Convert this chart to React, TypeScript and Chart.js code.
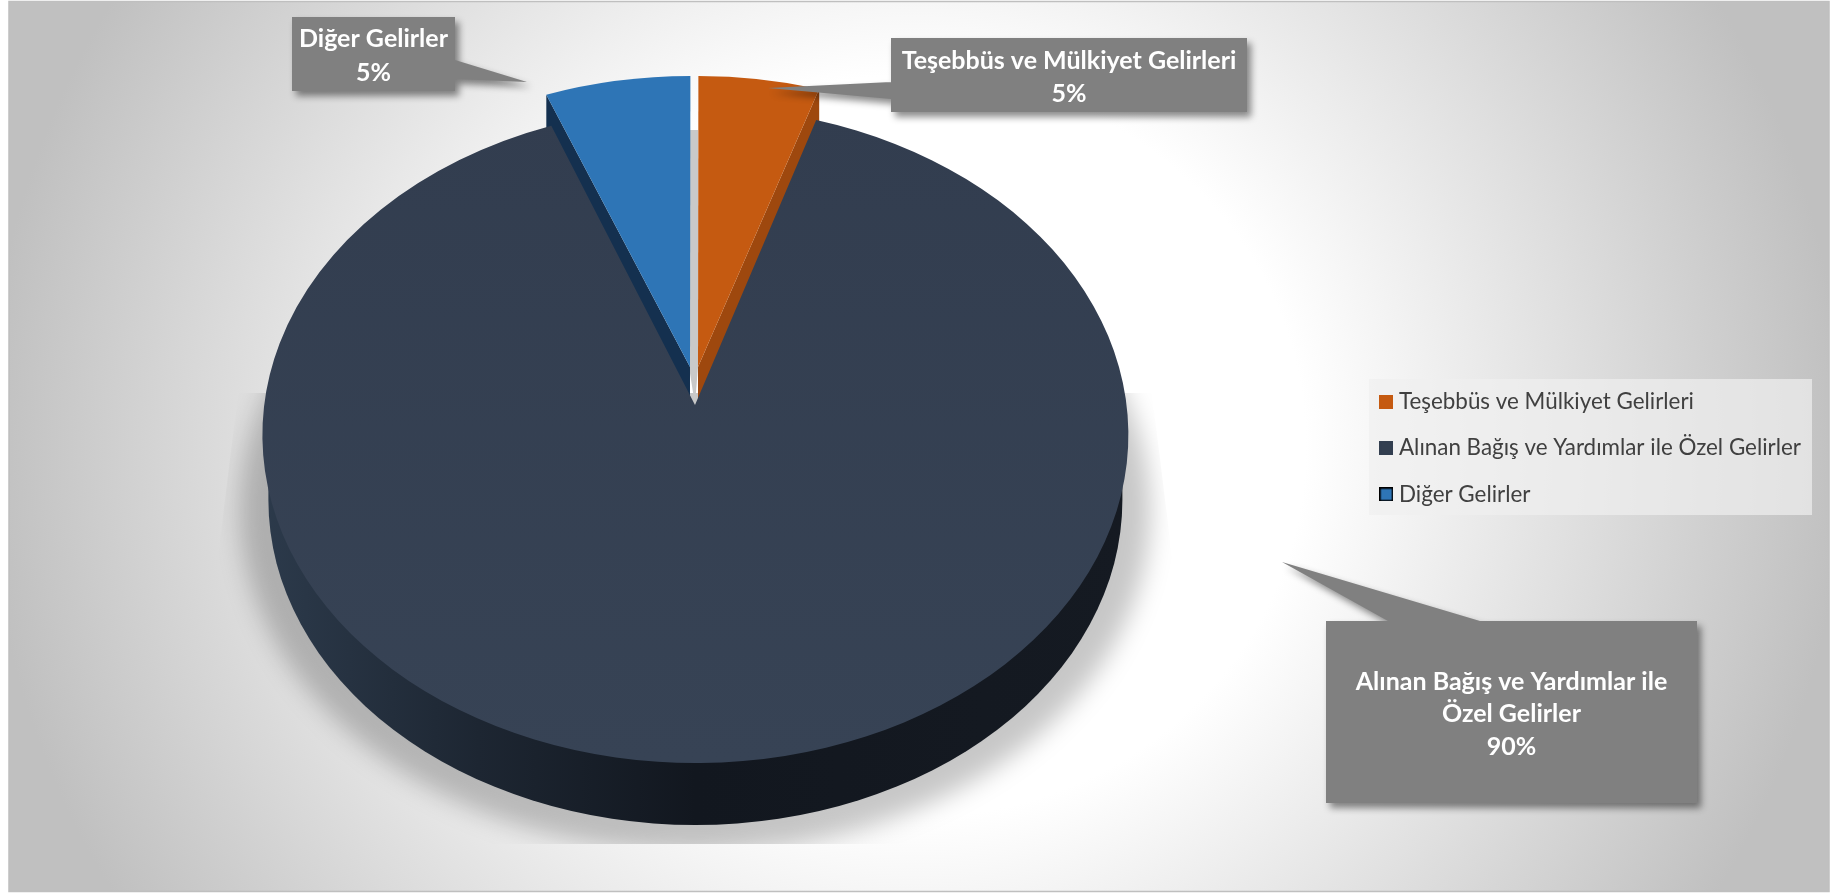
import React, { useEffect, useRef } from "react";
import { Chart, registerables } from "chart.js";

Chart.register(...registerables);

const labels = ["Teşebbüs ve Mülkiyet Gelirleri", "Alınan Bağış ve Yardımlar ile Özel Gelirler", "Diğer Gelirler"];
const values = [4.5, 90.1, 5.4];
const colors = ["#c55a11", "#333f50", "#2e75b6"];
const wallColors = ["#9e480e", "#1b2430", "#14304f"];
const legendBorders = ["#c55a11", "#333f50", "#000000"];
const calloutLines = [["Teşebbüs ve Mülkiyet Gelirleri"], ["Alınan Bağış ve Yardımlar ile", "Özel Gelirler"], ["Diğer Gelirler"]];

const W = 1834;
const H = 893;
const FONT = "Lato";
const SQUASH = 328 / 433;
const DEPTH = 62;
const MAIN_CY = 435;

// Where each slice's face sits on the page: the exploded wedges are lifted, and perspective moves each apex.
const faces = [
  { dx: 3, cy: 404, apexX: 698, apexY: 367 },
  { dx: 0, cy: MAIN_CY, apexX: 695, apexY: 405 },
  { dx: -5, cy: 404, apexX: 690, apexY: 367 },
];

const callouts = [
  { box: [891, 38, 356, 74], tail: [[891, 82], [768, 88], [891, 99]], textY: [61, 94] },
  { box: [1326, 621, 371, 182], tail: [[1388, 621], [1282, 562], [1480, 621]], textY: [682, 714, 747] },
  { box: [292, 17, 163, 74], tail: [[455, 60], [527, 82], [455, 79]], textY: [39, 73] },
];

function swatch(fill: string, border: string) {
  const c = document.createElement("canvas");
  c.width = 14;
  c.height = 14;
  const g = c.getContext("2d")!;
  g.fillStyle = border;
  g.fillRect(0, 0, 14, 14);
  g.fillStyle = fill;
  g.fillRect(1.5, 1.5, 11, 11);
  return c;
}

function facePath(ctx: CanvasRenderingContext2D, arc: any, i: number) {
  const p = arc.getProps(["x", "startAngle", "endAngle", "outerRadius"], true);
  const f = faces[i];
  ctx.beginPath();
  ctx.ellipse(p.x + f.dx, f.cy, p.outerRadius, p.outerRadius * SQUASH, 0, p.startAngle, p.endAngle);
  ctx.lineTo(f.apexX, f.apexY);
  ctx.closePath();
}

function arcEnd(arc: any, i: number, angle: number) {
  const p = arc.getProps(["x", "outerRadius"], true);
  const f = faces[i];
  return [p.x + f.dx + p.outerRadius * Math.cos(angle), f.cy + p.outerRadius * SQUASH * Math.sin(angle)];
}

const scene = {
  id: "scene",
  beforeDraw(chart: any) {
    const ctx: CanvasRenderingContext2D = chart.ctx;
    ctx.save();
    ctx.fillStyle = "#ffffff";
    ctx.fillRect(0, 0, W, H);
    ctx.save();
    const sy = 0.95;
    ctx.scale(1, sy);
    const g = ctx.createRadialGradient(915, 446 / sy, 0, 915, 446 / sy, 930);
    g.addColorStop(0, "#ffffff");
    g.addColorStop(0.42, "#ffffff");
    g.addColorStop(1, "#c0c0c0");
    ctx.fillStyle = g;
    ctx.fillRect(9, 2 / sy, 1820, 889 / sy);
    ctx.restore();
    ctx.strokeStyle = "#bfbfbf";
    ctx.lineWidth = 1.5;
    ctx.strokeRect(9, 1.5, 1820, 890);
    ctx.fillStyle = "rgba(240,240,240,0.7)";
    ctx.fillRect(1369, 379, 443, 136);
    ctx.restore();
  },
  beforeDatasetsDraw(chart: any) {
    const ctx: CanvasRenderingContext2D = chart.ctx;
    const arcs = chart.getDatasetMeta(0).data;
    const main = arcs[1].getProps(["x", "outerRadius"], true);
    const R = main.outerRadius;
    ctx.save();

    // soft ground shadow, cut off as in the source picture
    ctx.save();
    ctx.beginPath();
    ctx.moveTo(238, 393);
    ctx.lineTo(217, 564);
    ctx.lineTo(217, 844);
    ctx.lineTo(1173, 844);
    ctx.lineTo(1173, 564);
    ctx.lineTo(1152, 393);
    ctx.closePath();
    ctx.clip();
    ctx.filter = "blur(12px)";
    ctx.fillStyle = "rgba(0,0,0,0.22)";
    ctx.beginPath();
    ctx.ellipse(main.x, 510, R + 22, R * SQUASH + 14, 0, 0, Math.PI * 2);
    ctx.fill();
    ctx.restore();

    // side wall of the big slice
    const wall = ctx.createLinearGradient(main.x - R, 0, main.x + R, 0);
    wall.addColorStop(0, "#2c3a4b");
    wall.addColorStop(0.25, "#1d2632");
    wall.addColorStop(0.5, "#12171f");
    wall.addColorStop(1, "#151a22");
    ctx.fillStyle = wall;
    ctx.beginPath();
    ctx.ellipse(main.x, 500, R - 6, 325, 0, 0, Math.PI);
    ctx.lineTo(main.x - R + 6, MAIN_CY + 30);
    ctx.lineTo(main.x + R - 6, MAIN_CY + 30);
    ctx.closePath();
    ctx.fill();

    // thin inner wall seen through the gap between the wedges
    ctx.fillStyle = "#c9c9c9";
    ctx.beginPath();
    ctx.moveTo(689, 130);
    ctx.lineTo(698, 130);
    ctx.lineTo(698, 367);
    ctx.lineTo(695, 405);
    ctx.lineTo(689, 367);
    ctx.closePath();
    ctx.fill();

    // walls of the wedges
    [0, 2].forEach((i) => {
      const p = arcs[i].getProps(["startAngle", "endAngle"], true);
      const e = arcEnd(arcs[i], i, i === 0 ? p.endAngle : p.startAngle);
      const f = faces[i];
      ctx.fillStyle = wallColors[i];
      ctx.beginPath();
      ctx.moveTo(e[0], e[1]);
      ctx.lineTo(e[0], e[1] + DEPTH);
      ctx.lineTo(f.apexX, f.apexY + DEPTH);
      ctx.lineTo(f.apexX, f.apexY);
      ctx.closePath();
      ctx.fill();
    });

    // top faces
    const topFill = ctx.createLinearGradient(0, 100, 0, 760);
    topFill.addColorStop(0, "#323d4f");
    topFill.addColorStop(1, "#374355");
    facePath(ctx, arcs[1], 1);
    ctx.fillStyle = topFill;
    ctx.fill();
    [0, 2].forEach((i) => {
      facePath(ctx, arcs[i], i);
      ctx.fillStyle = arcs[i].options.backgroundColor;
      ctx.fill();
    });
    ctx.restore();
    return false;
  },
  afterDraw(chart: any) {
    const ctx: CanvasRenderingContext2D = chart.ctx;
    const total = values.reduce((a, b) => a + b, 0);
    callouts.forEach((c, i) => {
      const [x, y, w, h] = c.box;
      ctx.save();
      ctx.shadowColor = "rgba(0,0,0,0.45)";
      ctx.shadowBlur = 7;
      ctx.shadowOffsetX = 4;
      ctx.shadowOffsetY = 5;
      ctx.fillStyle = "#808080";
      ctx.beginPath();
      ctx.rect(x, y, w, h);
      ctx.moveTo(c.tail[0][0], c.tail[0][1]);
      ctx.lineTo(c.tail[1][0], c.tail[1][1]);
      ctx.lineTo(c.tail[2][0], c.tail[2][1]);
      ctx.closePath();
      ctx.fill("nonzero");
      ctx.restore();
      ctx.save();
      ctx.fillStyle = "#ffffff";
      ctx.font = `bold 25px ${FONT}`;
      ctx.textAlign = "center";
      ctx.textBaseline = "middle";
      const lines = [...calloutLines[i], `${Math.round((values[i] / total) * 100)}%`];
      lines.forEach((t, k) => ctx.fillText(t, x + w / 2, c.textY[k]));
      ctx.restore();
    });
  },
};

export default function App() {
  const ref = useRef<HTMLCanvasElement>(null);
  useEffect(() => {
    document.body.style.margin = "0";
    const chart = new Chart(ref.current!, {
      type: "pie",
      data: {
        labels,
        datasets: [{ data: values, backgroundColor: colors, borderWidth: 0 }],
      },
      options: {
        animation: false,
        responsive: false,
        devicePixelRatio: 1,
        layout: { padding: { left: 30, right: 23, top: 15, bottom: 12 } },
        plugins: {
          tooltip: { enabled: false },
          legend: {
            display: true,
            position: "right",
            labels: {
              usePointStyle: true,
              pointStyleWidth: 3,
              boxHeight: 14,
              padding: 24,
              color: "#404040",
              font: { family: FONT, size: 22.4 },
              generateLabels: () =>
                labels.map((text, i) => ({
                  text,
                  index: i,
                  datasetIndex: 0,
                  hidden: false,
                  fontColor: "#404040",
                  fillStyle: colors[i],
                  strokeStyle: legendBorders[i],
                  lineWidth: 0,
                  pointStyle: swatch(colors[i], legendBorders[i]) as any,
                })),
            },
          },
        },
      },
      plugins: [scene],
    } as any);
    return () => chart.destroy();
  }, []);
  return (
    <div style={{ width: W, height: H, overflow: "hidden" }}>
      <canvas ref={ref} width={W} height={H} style={{ display: "block", width: W, height: H }} />
    </div>
  );
}
